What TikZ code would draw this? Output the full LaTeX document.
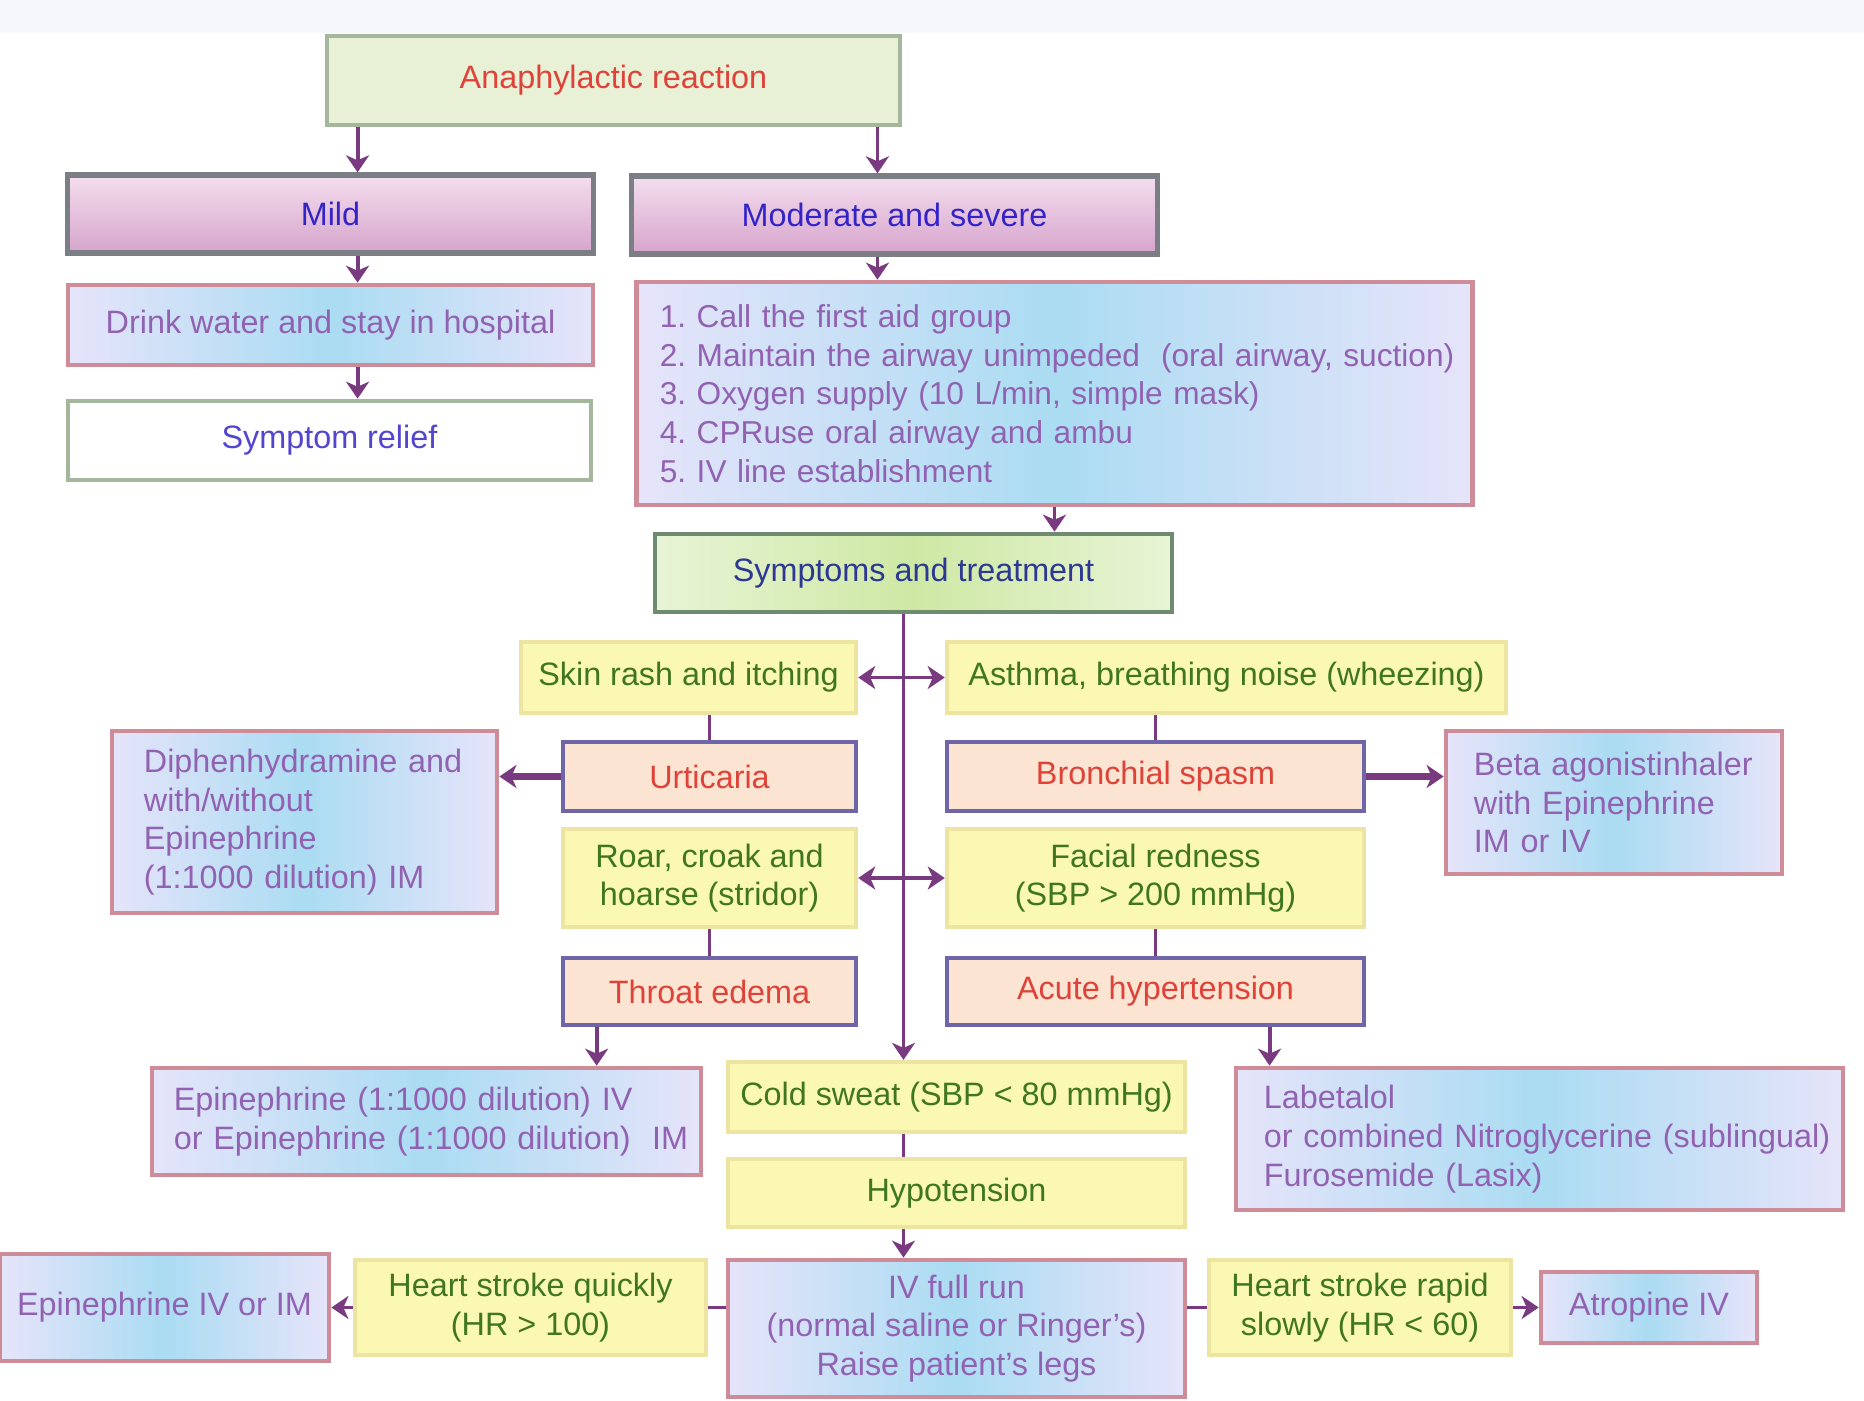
\documentclass[tikz,border=0pt]{standalone}
\usepackage{fontspec}
\setmainfont{Liberation Sans}
\usepackage{xcolor}
\usepackage{tikz}
\usetikzlibrary{arrows.meta}

\definecolor{linec}{RGB}{122,58,128}
\definecolor{redtxt}{RGB}{222,66,56}
\definecolor{bluetxt}{RGB}{52,36,200}
\definecolor{purptxt}{RGB}{146,98,178}
\definecolor{greentxt}{RGB}{64,118,32}
\definecolor{navytxt}{RGB}{44,56,146}
\definecolor{yelfill}{RGB}{250,248,178}
\definecolor{yeldraw}{RGB}{236,228,160}
\definecolor{peachfill}{RGB}{252,228,210}
\definecolor{slatedraw}{RGB}{110,102,168}
\definecolor{rosedraw}{RGB}{206,140,152}
\definecolor{bluemid}{RGB}{170,220,242}
\definecolor{blueedge}{RGB}{230,228,250}
\definecolor{pinktop}{RGB}{244,222,238}
\definecolor{pinkbot}{RGB}{214,164,204}
\definecolor{greydraw}{RGB}{124,126,134}
\definecolor{sagefill}{RGB}{232,240,214}
\definecolor{sagedraw}{RGB}{164,182,156}
\definecolor{greenmid}{RGB}{206,232,164}
\definecolor{greenedge}{RGB}{232,244,214}
\definecolor{greendraw}{RGB}{110,138,112}
\definecolor{bandc}{RGB}{246,247,250}

\begin{document}
\begin{tikzpicture}[x=0.01cm,y=-0.01cm,
    >={Stealth[length=1.7mm,width=2.3mm,inset=0.5mm]},
    every node/.style={font=\fontsize{9.2}{11}\selectfont\frenchspacing,inner sep=0pt,align=center},
    yelbox/.style={draw=yeldraw,line width=1.2pt,fill=yelfill,text=greentxt},
    peachbox/.style={draw=slatedraw,line width=1.3pt,fill=peachfill,text=redtxt},
    cyanbox/.style={draw=rosedraw,line width=1.3pt,left color=blueedge,right color=blueedge,middle color=bluemid,text=purptxt},
    pinkbox/.style={draw=greydraw,line width=1.5pt,top color=pinktop,bottom color=pinkbot,text=bluetxt},
    link/.style={draw=linec,line width=1.1pt},
    thick link/.style={draw=linec,line width=2.2pt}]
  \useasboundingbox (0,0) rectangle (1864,1400);
  \fill[bandc] (0,0) rectangle (1864,33);

  \node[draw=sagedraw,line width=1.3pt,fill=sagefill,text=redtxt,minimum width=5.73cm,minimum height=0.89cm] (react) at (613.5,80.5) {Anaphylactic reaction};
  \node[pinkbox,minimum width=5.25cm,minimum height=0.78cm] (mild) at (330.5,214) {Mild};
  \node[pinkbox,minimum width=5.25cm,minimum height=0.78cm] (modsev) at (894.5,215) {Moderate and severe};
  \node[cyanbox,minimum width=5.25cm,minimum height=0.80cm] (drink) at (330.5,325) {Drink water and stay in hospital};
  \node[draw=sagedraw,line width=1.3pt,fill=white,text=bluetxt!85,minimum width=5.23cm,minimum height=0.79cm] (relief) at (329.5,440.5) {Symptom relief};
  \node[cyanbox,font=\fontsize{9}{11}\selectfont\frenchspacing,align=left,inner xsep=0.23cm,text width=7.89cm,minimum height=2.23cm] (steps) at (1054.5,393.5)
    {\mbox{1. Call the first aid group}\\
     \mbox{2. Maintain the airway unimpeded\ \ (oral airway, suction)}\\
     \mbox{3. Oxygen supply (10 L/min, simple mask)}\\
     \mbox{4. CPRuse oral airway and ambu}\\
     \mbox{5. IV line establishment}};
  \node[draw=greendraw,line width=1.3pt,left color=greenedge,right color=greenedge,middle color=greenmid,text=navytxt,minimum width=5.17cm,minimum height=0.78cm] (sympt) at (913.5,573) {Symptoms and treatment};

  \node[yelbox,minimum width=3.35cm,minimum height=0.71cm] (skin) at (688.5,677.5) {Skin rash and itching};
  \node[yelbox,minimum width=5.59cm,minimum height=0.71cm] (asthma) at (1226.5,677.5) {Asthma, breathing noise (wheezing)};
  \node[peachbox,minimum width=2.93cm,minimum height=0.69cm] (urtic) at (709.5,776.5) {Urticaria};
  \node[peachbox,minimum width=4.17cm,minimum height=0.69cm] (bronch) at (1155.5,776.5) {Bronchial spasm};
  \node[cyanbox,align=left,inner xsep=0.32cm,text width=3.21cm,minimum height=1.82cm] (diphen) at (304.5,822)
    {\mbox{Diphenhydramine and}\\ with/without\\ Epinephrine\\ \mbox{(1:1000 dilution) IM}};
  \node[cyanbox,align=left,inner xsep=0.28cm,text width=2.80cm,minimum height=1.43cm] (beta) at (1614,802.5)
    {\mbox{Beta agonistinhaler}\\ \mbox{with Epinephrine}\\ IM or IV};
  \node[yelbox,minimum width=2.93cm,minimum height=0.98cm] (roar) at (709.5,878) {Roar, croak and\\ hoarse (stridor)};
  \node[yelbox,minimum width=4.17cm,minimum height=0.98cm] (facial) at (1155.5,878) {Facial redness\\ (SBP > 200 mmHg)};
  \node[peachbox,minimum width=2.93cm,minimum height=0.67cm] (throat) at (709.5,991.5) {Throat edema};
  \node[peachbox,minimum width=4.17cm,minimum height=0.67cm] (acute) at (1155.5,991.5) {Acute hypertension};

  \node[cyanbox,align=left,inner xsep=0.22cm,text width=5.05cm,minimum height=1.07cm] (epia) at (426.5,1121.5)
    {\mbox{Epinephrine (1:1000 dilution) IV}\\ \mbox{or Epinephrine (1:1000 dilution)\ \ IM}};
  \node[yelbox,minimum width=4.57cm,minimum height=0.70cm] (cold) at (956.5,1097) {Cold sweat (SBP < 80 mmHg)};
  \node[cyanbox,align=left,inner xsep=0.28cm,text width=5.51cm,minimum height=1.42cm] (labet) at (1539.5,1139)
    {Labetalol\\ \mbox{or combined Nitroglycerine (sublingual)}\\ \mbox{Furosemide (Lasix)}};
  \node[yelbox,minimum width=4.57cm,minimum height=0.68cm] (hypo) at (956.5,1193) {Hypotension};

  \node[cyanbox,minimum width=3.29cm,minimum height=1.07cm] (epib) at (164.5,1307.5) {Epinephrine IV or IM};
  \node[yelbox,minimum width=3.51cm,minimum height=0.95cm] (hsq) at (530.5,1307.5) {Heart stroke quickly\\ (HR > 100)};
  \node[cyanbox,minimum width=4.57cm,minimum height=1.37cm] (ivrun) at (956.5,1328.5) {IV full run\\ (normal saline or Ringer's)\\ Raise patient's legs};
  \node[yelbox,minimum width=3.02cm,minimum height=0.95cm] (hsr) at (1360,1307.5) {Heart stroke rapid\\ slowly (HR < 60)};
  \node[cyanbox,minimum width=2.16cm,minimum height=0.71cm] (atrop) at (1649,1307.5) {Atropine IV};

  \coordinate (lft) at ([xshift=0.33cm]react.south west);
  \coordinate (rgt) at ([xshift=-0.25cm]react.south east);
  \coordinate (spine) at ([xshift=-0.1cm]sympt.south);
  \coordinate (epiin) at ([xshift=0.36cm]throat.south west);
  \coordinate (labin) at ([xshift=0.36cm]labet.north west);
  \draw[link,->] (lft) -- (lft |- mild.north);
  \draw[link,->] (rgt) -- (rgt |- modsev.north);
  \draw[link,->] (lft |- mild.south) -- (lft |- drink.north);
  \draw[link,->] (lft |- drink.south) -- (lft |- relief.north);
  \draw[link,->] (rgt |- modsev.south) -- (rgt |- steps.north);
  \draw[link,->] (steps.south) -- (steps.south |- sympt.north);
  \draw[link,->] (spine) -- (spine |- cold.north);
  \draw[link,<->] (skin) -- (asthma);
  \draw[link,<->] (roar) -- (facial);
  \draw[link] (urtic.north) -- (urtic.north |- skin.south);
  \draw[link] (bronch.north) -- (bronch.north |- asthma.south);
  \draw[link] (throat.north) -- (roar.south);
  \draw[link] (acute.north) -- (facial.south);
  \draw[thick link,->] (urtic.west) -- (diphen.east |- urtic.west);
  \draw[thick link,->] (bronch.east) -- (beta.west |- bronch.east);
  \draw[link,->] (epiin) -- (epiin |- epia.north);
  \draw[link,->] (acute.south -| labin) -- (labin);
  \draw[link] (spine |- cold.south) -- (spine |- hypo.north);
  \draw[link,->] (spine |- hypo.south) -- (spine |- ivrun.north);
  \draw[link] (hsq.east) -- (hsq.east -| ivrun.west);
  \draw[link,->] (hsq.west) -- (hsq.west -| epib.east);
  \draw[link] (hsr.west) -- (hsr.west -| ivrun.east);
  \draw[link,->] (hsr.east) -- (hsr.east -| atrop.west);
\end{tikzpicture}
\end{document}
